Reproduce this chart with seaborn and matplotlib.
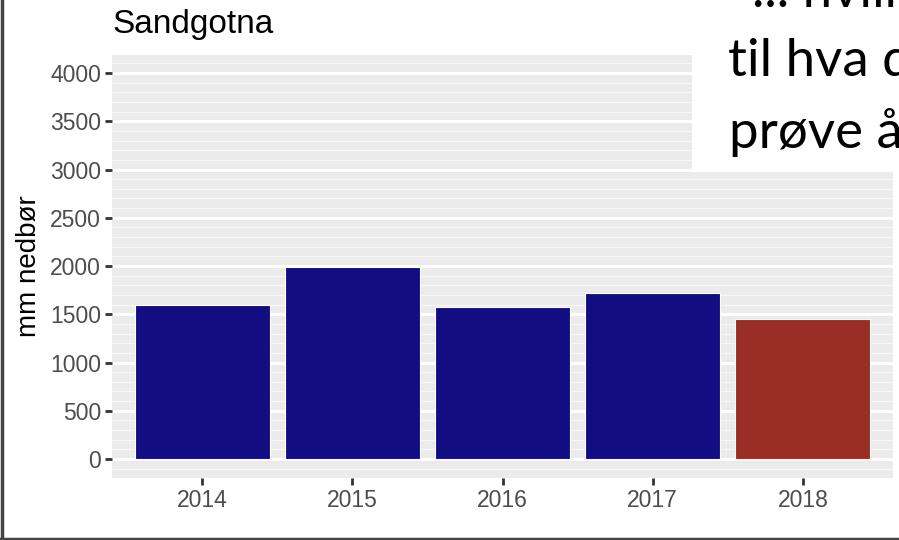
import seaborn as sns
import matplotlib.pyplot as plt
import matplotlib.patches as mpatches
from matplotlib.lines import Line2D
from matplotlib.ticker import MultipleLocator
import pandas as pd

# data
years = ["2014", "2015", "2016", "2017", "2018"]
nedbor = [1600, 1990, 1575, 1720, 1450]
bar_colors = ["#120E82", "#120E82", "#120E82", "#120E82", "#9A2E25"]
title = "Sandgotna"
ylabel = "mm nedbør"
overlay_lines = ["... hvilket", "til hva d", "prøve å"]

df = pd.DataFrame({"year": years, "mm": nedbor})

sns.set_style("white")
plt.rcParams["font.family"] = ["Liberation Sans", "DejaVu Sans"]

W, H = 899, 540
fig = plt.figure(figsize=(W / 100, H / 100), dpi=100)
ax = fig.add_axes([112 / W, (H - 478) / H, (893 - 112) / W, (478 - 55) / H])
ax.set_facecolor("#EBEBEB")

sns.barplot(data=df, x="year", y="mm", hue="year", palette=bar_colors,
            legend=False, width=0.9, saturation=1, ax=ax,
            edgecolor="white", linewidth=0.8, zorder=3)

ax.set_xlim(-0.6, 4.6)
ax.set_ylim(-197, 4187)
ax.set_yticks(range(0, 4001, 500))
ax.yaxis.set_minor_locator(MultipleLocator(100))
ax.grid(which="major", axis="y", color="white", linewidth=2.2, zorder=0)
ax.grid(which="minor", axis="y", color="#F7F7F7", linewidth=0.9, zorder=0)
ax.grid(which="major", axis="x", visible=False)
ax.set_axisbelow(True)
for s in ax.spines.values():
    s.set_visible(False)

ax.tick_params(which="major", length=5, width=2, color="#333333",
               labelsize=16.5, labelcolor="#4D4D4D", pad=3)
ax.tick_params(which="minor", length=0)
ax.tick_params(axis="y", direction="out", left=True)
ax.tick_params(axis="x", direction="out", bottom=True)
ax.set_xlabel("")
ax.set_ylabel(ylabel, fontsize=20, color="black", labelpad=6)

fig.text(112 / W, 1 - 33 / H, title, fontsize=24, color="black",
         ha="left", va="baseline")

# white overlay box with text, top right
fig.add_artist(mpatches.Rectangle((692 / W, 1 - 172 / H), 1 - 692 / W, 172 / H,
                                  transform=fig.transFigure, facecolor="white",
                                  edgecolor="none", zorder=10))
baselines = [7, 76, 148]
xs = [752, 728, 729]
for t, b, x in zip(overlay_lines, baselines, xs):
    fig.text(x / W, 1 - b / H, t, fontsize=38, color="black",
             family=["Lato", "DejaVu Sans"], ha="left", va="baseline", zorder=11)

# screenshot frame lines
fig.add_artist(Line2D([1.5 / W, 1.5 / W], [0, 1], transform=fig.transFigure,
                      color="#444444", linewidth=2.5))
fig.add_artist(Line2D([0, 1], [1.5 / H, 1.5 / H], transform=fig.transFigure,
                      color="#444444", linewidth=2.5))

fig.savefig("out.png", dpi=100)
